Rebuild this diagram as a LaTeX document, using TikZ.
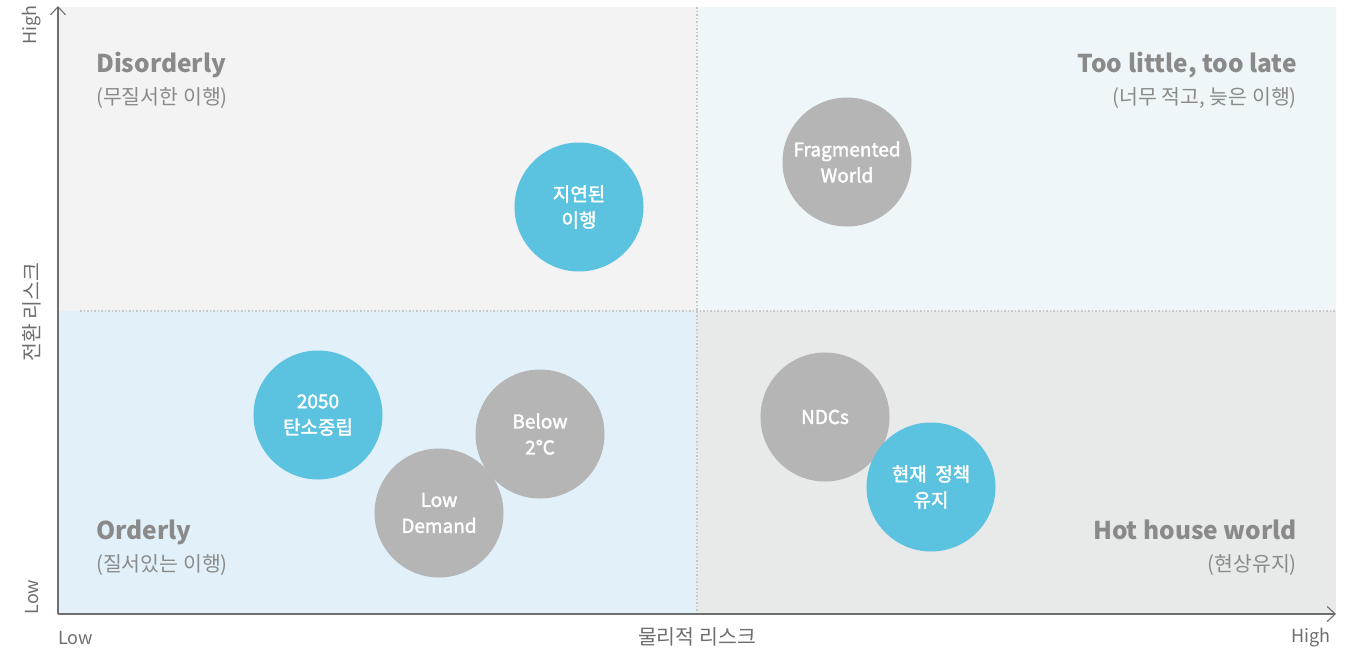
\documentclass[tikz,border=0pt]{standalone}
\usepackage{fontspec}
\setmainfont{Noto Sans CJK KR}
\newfontfamily\scnfont{Noto Sans CJK KR}[FakeBold=2]
\usetikzlibrary{positioning, arrows.meta}

\definecolor{scnblue}{HTML}{5BC2DF}
\definecolor{scngray}{HTML}{B4B5B4}
\definecolor{tlfill}{HTML}{F3F3F3}
\definecolor{trfill}{HTML}{EEF6FA}
\definecolor{blfill}{HTML}{E2F1F9}
\definecolor{brfill}{HTML}{E8E9E9}
\definecolor{headgray}{HTML}{8A8A8A}
\definecolor{axgray}{HTML}{6E6E6E}
\definecolor{splitgray}{HTML}{C8C8C8}

\begin{document}
\begin{tikzpicture}[
    x=1pt, y=-1pt,
    scen/.style={circle, minimum size=129pt, inner sep=0pt, text=white, align=center, font=\scnfont\fontsize{19}{26}\selectfont},
    bluescn/.style={scen, fill=scnblue},
    grayscn/.style={scen, fill=scngray},
    head/.style={inner sep=0pt, text=headgray, font=\fontsize{24.5}{30}\selectfont\bfseries},
    sub/.style={inner sep=0pt, text=headgray, font=\fontsize{20.5}{24}\selectfont},
    axlab/.style={inner sep=0pt, text=axgray, font=\fontsize{18}{22}\selectfont},
    axtitle/.style={axlab, font=\fontsize{20.5}{24}\selectfont},
    axis/.style={draw=axgray, line width=1.2pt, -{Straight Barb[length=8pt, width=15pt, line width=1.1pt]}},
    split/.style={draw=splitgray, line width=1.5pt, dotted},
    ]
   \useasboundingbox (0,0) rectangle (1363,651);

   % Quadrants.
   \fill[tlfill] (58,7) rectangle (697,311);
   \fill[trfill] (697,7) rectangle (1336,311);
   \fill[blfill] (58,311) rectangle (697,614);
   \fill[brfill] (697,311) rectangle (1336,614);

   \coordinate (origin) at (58,614);
   \coordinate (y_top) at (58,6);
   \coordinate (x_end) at (1336,614);
   \coordinate (h_start) at (80,311);
   \coordinate (h_end) at (1336,311);
   \coordinate (v_start) at (697,7);
   \coordinate (v_end) at (697,613);

   \draw[split] (h_start) -- (h_end);
   \draw[split] (v_start) -- (v_end);

   \draw[axis] (origin) -- (y_top);
   \draw[axis] (origin) -- (x_end);

   % Axis labels.
   \node[axlab, rotate=90] (y_high) at (32,25) {High};
   \node[axtitle, rotate=90] (y_title) at (32,312) {전환 리스크};
   \node[axlab, rotate=90] (y_low) at (32,597) {Low};
   \node[axlab, anchor=west] (x_low) at (58,638) {Low};
   \node[axtitle] (x_title) at (697,637) {물리적 리스크};
   \node[axlab, anchor=east] (x_high) at (1331,638) {High};

   % Quadrant titles.
   \node[head, anchor=base west] (disorderly) at (96,72) {Disorderly};
   \node[sub, below=32pt of disorderly.base west, anchor=base west] (disorderly_sub) {(무질서한 이행)};
   \node[head, anchor=base east] (late) at (1297,72) {Too little, too late};
   \node[sub, below=32pt of late.base east, anchor=base east] (late_sub) {(너무 적고, 늦은 이행)};
   \node[head, anchor=base west] (orderly) at (96,539) {Orderly};
   \node[sub, below=32pt of orderly.base west, anchor=base west] (orderly_sub) {(질서있는 이행)};
   \node[head, anchor=base east] (hothouse) at (1297,539) {Hot house world};
   \node[sub, below=32pt of hothouse.base east, anchor=base east] (hothouse_sub) {(현상유지)};

   % Scenarios.
   \node[bluescn] (delayed) at (579,207) {지연된\\이행};
   \node[grayscn] (fragmented) at (847,162) {Fragmented\\World};
   \node[bluescn] (netzero) at (318,415) {2050\\탄소중립};
   \node[grayscn] (below2) at (540,434) {Below\\2°C};
   \node[grayscn] (lowdemand) at (439,513) {Low\\Demand};
   \node[grayscn] (ndcs) at (825,417) {NDCs};
   \node[bluescn] (current) at (931,487) {현재\ \ 정책\\유지};

\end{tikzpicture}
\end{document}
